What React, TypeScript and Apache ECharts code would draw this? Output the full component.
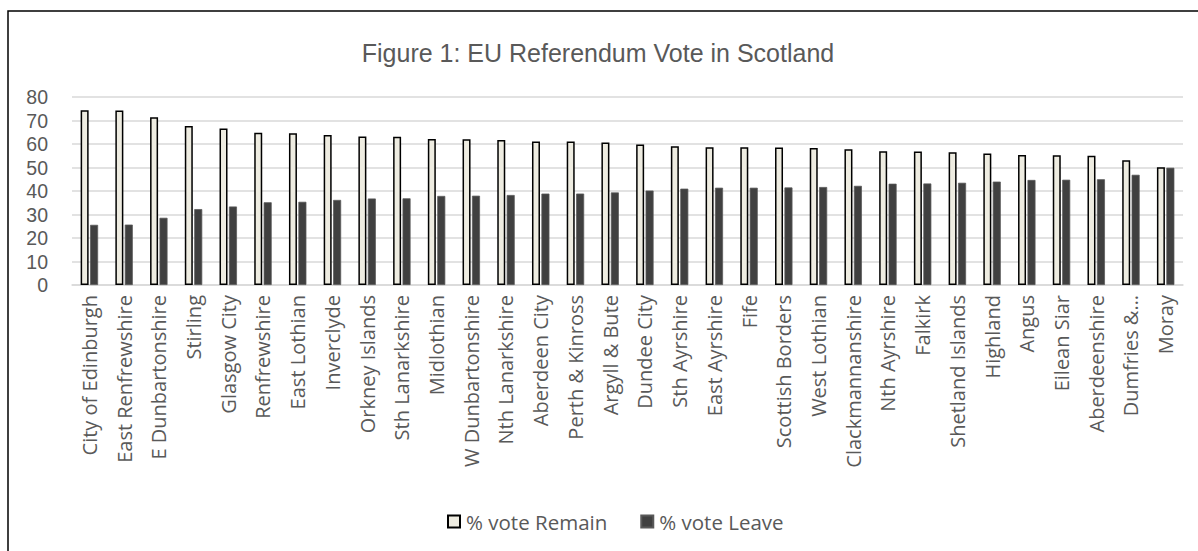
import React, { useEffect, useRef } from "react";
import * as echarts from "echarts";

const councils = [
  "City of Edinburgh", "East Renfrewshire", "E Dunbartonshire", "Stirling", "Glasgow City",
  "Renfrewshire", "East Lothian", "Inverclyde", "Orkney Islands", "Sth Lanarkshire",
  "Midlothian", "W Dunbartonshire", "Nth Lanarkshire", "Aberdeen City", "Perth & Kinross",
  "Argyll & Bute", "Dundee City", "Sth Ayrshire", "East Ayrshire", "Fife",
  "Scottish Borders", "West Lothian", "Clackmannanshire", "Nth Ayrshire", "Falkirk",
  "Shetland Islands", "Highland", "Angus", "Eilean Siar", "Aberdeenshire",
  "Dumfries &…", "Moray",
];

const remainPct = [
  74.4, 74.3, 71.4, 67.7, 66.6, 64.8, 64.6, 63.8, 63.2, 63.1,
  62.1, 62.0, 61.7, 61.1, 61.1, 60.6, 59.8, 59.0, 58.6, 58.6,
  58.5, 58.3, 57.8, 56.9, 56.8, 56.5, 56.0, 55.3, 55.2, 55.0,
  53.1, 50.1,
];

const leavePct = [
  25.6, 25.7, 28.6, 32.3, 33.4, 35.2, 35.4, 36.2, 36.8, 36.9,
  37.9, 38.0, 38.3, 38.9, 38.9, 39.4, 40.2, 41.0, 41.4, 41.4,
  41.5, 41.7, 42.2, 43.1, 43.2, 43.5, 44.0, 44.7, 44.8, 45.0,
  46.9, 49.9,
];

const yTicks = { min: 0, max: 80, interval: 10 };

const TITLE = "Figure 1: EU Referendum Vote in Scotland";
const REMAIN = "% vote Remain";
const LEAVE = "% vote Leave";

export default function App() {
  const ref = useRef<HTMLDivElement>(null);
  useEffect(() => {
    document.body.style.margin = "0";
    document.body.style.overflow = "hidden";
    if (!ref.current) return;
    const chart = echarts.init(ref.current, null, { renderer: "svg" });
    const labelColor = "#595959";
    const font = "'Open Sans', sans-serif";
    chart.setOption({
      animation: false,
      backgroundColor: "#ffffff",
      title: {
        text: TITLE,
        left: 593,
        textAlign: "center",
        top: 35,
        textStyle: {
          fontFamily: "'Liberation Sans', Arial, sans-serif",
          fontSize: 25,
          fontWeight: "normal",
          color: labelColor,
        },
      },
      legend: {
        left: 442,
        top: 506,
        icon: "rect",
        itemWidth: 12,
        itemHeight: 12,
        itemGap: 33,
        textStyle: { fontFamily: font, fontSize: 20.5, color: labelColor, padding: [0, 0, 0, 1] },
        data: [REMAIN, LEAVE],
      },
      graphic: [
        {
          type: "polyline",
          shape: { points: [[8, 600], [8, 11], [1210, 11]] },
          style: { stroke: "#000000", lineWidth: 1.5, fill: null },
          silent: true,
        },
      ],
      grid: { left: 72, right: 15, top: 97, bottom: 266, containLabel: false },
      xAxis: {
        type: "category",
        data: councils,
        axisLine: { show: true, lineStyle: { color: "#d9d9d9", width: 1.5 } },
        axisTick: { show: false },
        axisLabel: {
          rotate: 90,
          interval: 0,
          margin: 10,
          fontFamily: font,
          fontSize: 20,
          lineHeight: 22,
          color: labelColor,
        },
      },
      yAxis: {
        type: "value",
        min: yTicks.min,
        max: yTicks.max,
        interval: yTicks.interval,
        axisLine: { show: false },
        axisTick: { show: false },
        splitLine: { lineStyle: { color: "#d9d9d9", width: 1.5 } },
        axisLabel: {
          margin: 24,
          fontFamily: "'Liberation Sans', Arial, sans-serif",
          fontSize: 19.5,
          lineHeight: 20,
          color: labelColor,
        },
      },
      series: [
        {
          name: REMAIN,
          type: "bar",
          data: remainPct,
          barWidth: 8,
          barGap: "18%",
          itemStyle: { color: "#EEECE1", borderColor: "#000000", borderWidth: 1.5 },
        },
        {
          name: LEAVE,
          type: "bar",
          data: leavePct,
          barWidth: 8,
          itemStyle: { color: "#404040", borderColor: "#595959", borderWidth: 0.75 },
        },
      ],
    });
    return () => chart.dispose();
  }, []);
  return <div ref={ref} style={{ width: 1198, height: 551 }} />;
}
